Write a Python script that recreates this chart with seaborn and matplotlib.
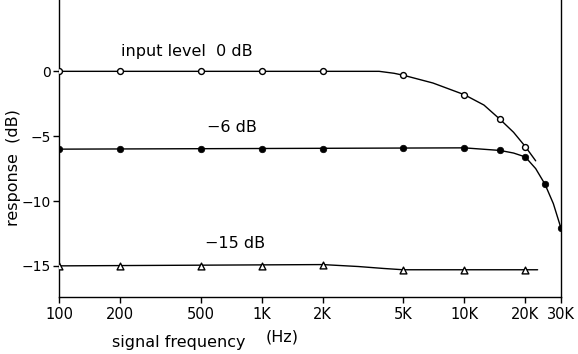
import matplotlib
matplotlib.use("Agg")
import matplotlib.pyplot as plt
import seaborn as sns

sns.set_theme(style="ticks")
plt.rcParams['font.family'] = ['DejaVu Sans']
plt.rcParams['text.color'] = 'black'
plt.rcParams['axes.labelcolor'] = 'black'

# measured points
freq_0db = [100, 200, 500, 1000, 2000, 5000, 10000, 15000, 20000]
resp_0db = [0, 0, 0, 0, 0, -0.3, -1.8, -3.7, -5.8]
freq_6db = [100, 200, 500, 1000, 2000, 5000, 10000, 15000, 20000, 25000, 30000]
resp_6db = [-6, -6, -6, -6, -6, -5.9, -5.9, -6.1, -6.6, -8.7, -12.1]
freq_15db = [100, 200, 500, 1000, 2000, 5000, 10000, 20000]
resp_15db = [-15, -15, -15, -15, -14.9, -15.3, -15.3, -15.3]

# hand-drawn curve traces
trace_0db_f = [100, 3800, 4500, 5000, 7000, 10000, 12500, 15000, 17500, 20000, 22500]
trace_0db_r = [0, 0, -0.15, -0.3, -0.9, -1.8, -2.6, -3.7, -4.7, -5.8, -6.9]
trace_6db_f = [100, 10000, 15000, 17500, 20000, 22500, 25000, 27500, 30000]
trace_6db_r = [-6, -5.9, -6.1, -6.3, -6.6, -7.5, -8.7, -10.2, -12.1]
trace_15db_f = [100, 2000, 3000, 4000, 5000, 23000]
trace_15db_r = [-15, -14.9, -15.05, -15.2, -15.3, -15.3]

xticks = [100, 200, 500, 1000, 2000, 5000, 10000, 20000, 30000]
xticklabels = ["100", "200", "500", "1K", "2K", "5K", "10K", "20K", "30K"]
yticks = [0, -5, -10, -15]
yticklabels = ["0", "\u22125", "\u221210", "\u221215"]

fig = plt.figure(figsize=(5.78, 3.54), dpi=100)
ax = fig.add_axes([59/578, 57/354, (561-59)/578, 297/354])

lw = 1.0
for f, r in [(trace_0db_f, trace_0db_r), (trace_6db_f, trace_6db_r), (trace_15db_f, trace_15db_r)]:
    sns.lineplot(x=f, y=r, ax=ax, color="black", linewidth=lw, estimator=None, sort=False)

sns.scatterplot(x=freq_0db, y=resp_0db, ax=ax, marker="o", s=18, facecolor="white",
                edgecolor="black", linewidth=1.0, zorder=5)
sns.scatterplot(x=freq_6db, y=resp_6db, ax=ax, marker="o", s=22, color="black",
                edgecolor="black", linewidth=0.5, zorder=5)
sns.scatterplot(x=freq_15db, y=resp_15db, ax=ax, marker="^", s=24, facecolor="white",
                edgecolor="black", linewidth=1.0, zorder=5)

ax.set_xscale("log")
ax.set_xlim(100, 30000)
ax.set_ylim(-17.4, 5.5)
ax.set_xticks(xticks)
ax.set_xticklabels(xticklabels)
ax.minorticks_off()
ax.set_yticks(yticks)
ax.set_yticklabels(yticklabels)
ax.tick_params(axis="both", direction="out", length=4, width=1, labelsize=10.5, colors="black")
ax.tick_params(axis="y", labelsize=10, pad=2)
ax.tick_params(axis="x", pad=3)

for s in ["left", "bottom", "right"]:
    ax.spines[s].set_visible(True)
    ax.spines[s].set_color("black")
    ax.spines[s].set_linewidth(1.0)
ax.spines["top"].set_visible(False)

ax.set_ylabel("")
ax.set_xlabel("")
fig.text(14/578, 1 - 168/354, "response  (dB)", fontsize=11.5, ha="center", va="center", rotation=90)
fig.text(179/578, 1 - 342/354, "signal frequency", fontsize=11.5, ha="center", va="center")
fig.text(282/578, 1 - 337/354, "(Hz)", fontsize=11.5, ha="center", va="center")

ax.text(202, 1.5, "input level  0 dB", fontsize=11.5, ha="left", va="center")
ax.text(536, -4.3, "\u22126 dB", fontsize=11.5, ha="left", va="center")
ax.text(524, -13.3, "\u221215 dB", fontsize=11.5, ha="left", va="center")

fig.savefig("out.png", dpi=100)
